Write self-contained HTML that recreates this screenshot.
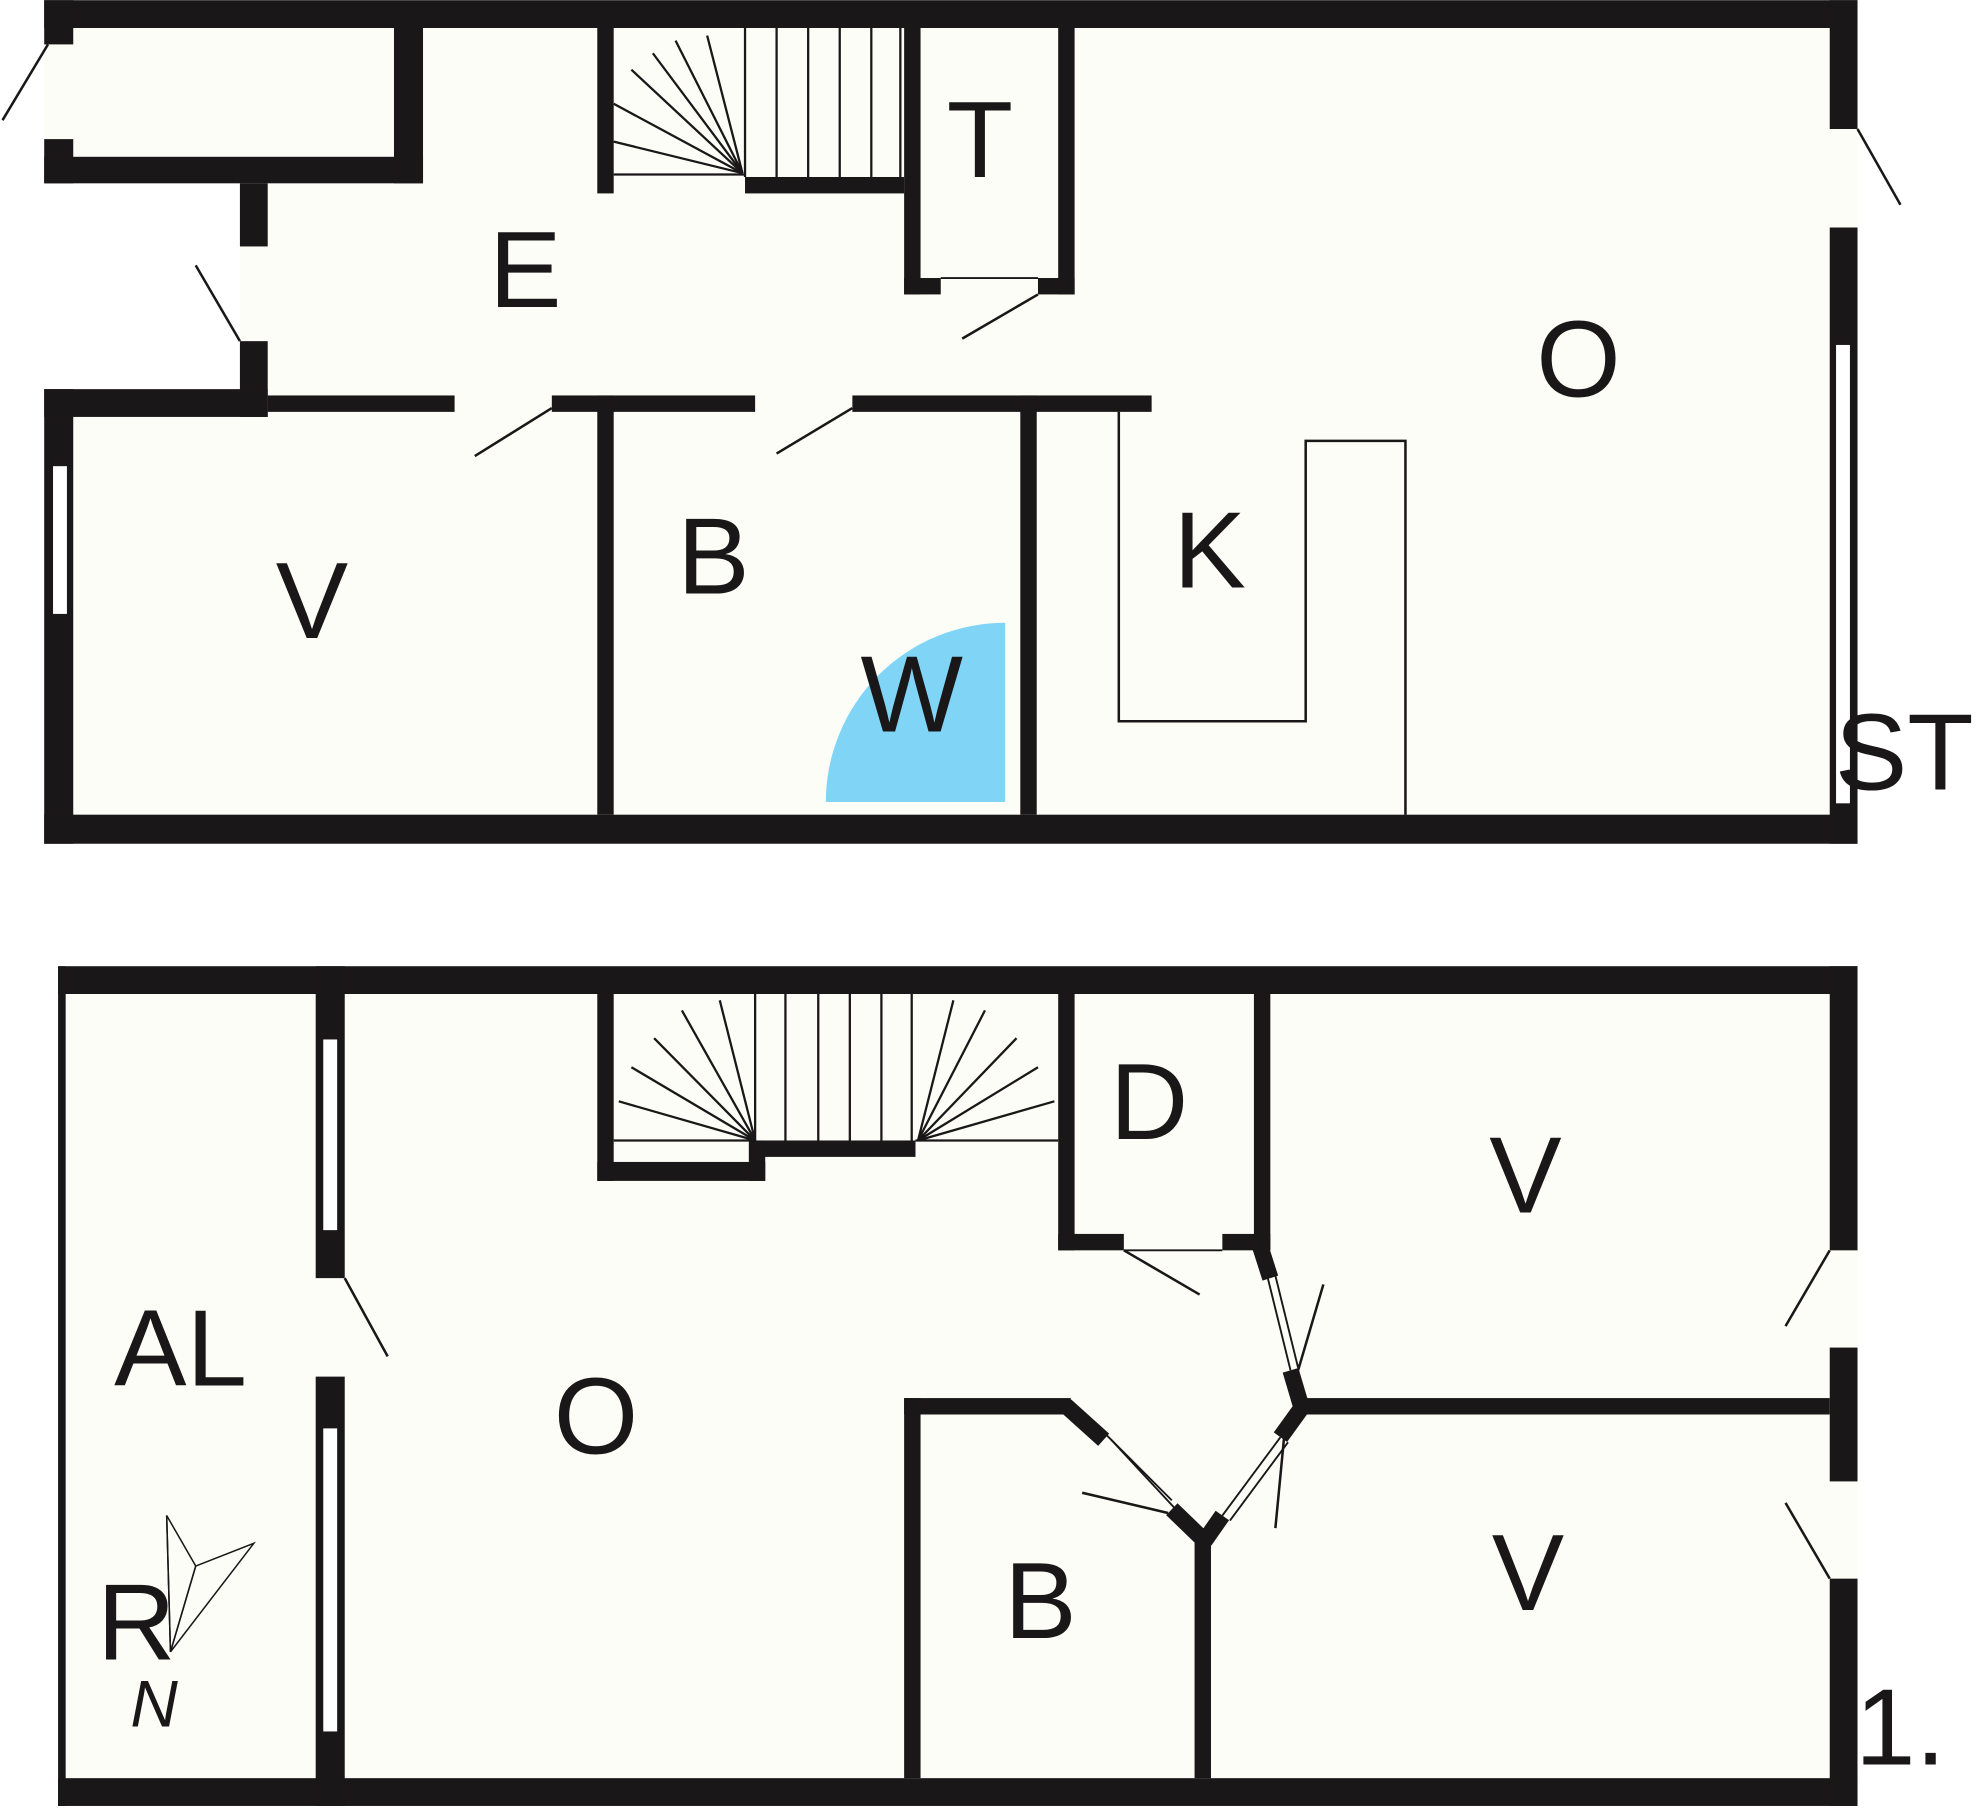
<!DOCTYPE html>
<html><head><meta charset="utf-8"><style>
html,body{margin:0;padding:0;background:#fff}
svg{display:block}
text{font-family:"Liberation Sans",sans-serif;fill:#1a1718}
</style></head><body>
<svg width="1980" height="1815" viewBox="0 0 1568 1437" xmlns="http://www.w3.org/2000/svg">
<rect width="1568" height="1437" fill="#fff"/>
<!-- floor fills -->
<path d="M35,0 H1471 V668 H35 V308 H190 V145 H35 Z" fill="#fcfdf7"/>
<rect x="46" y="765" width="1425" height="665" fill="#fcfdf7"/>
<g fill="#1a1718">
<!-- TOP FLOOR -->
<rect x="35" y="0" width="1436" height="22"/>
<rect x="35" y="0" width="23" height="35"/>
<rect x="35" y="110" width="23" height="35"/>
<rect x="35" y="124" width="300" height="21"/>
<rect x="312" y="22" width="23" height="123"/>
<rect x="190" y="145" width="22" height="50"/>
<rect x="190" y="270" width="22" height="60"/>
<rect x="35" y="308" width="23" height="360"/>
<rect x="35" y="308" width="177" height="22"/>
<rect x="212" y="313" width="148" height="13"/>
<rect x="437" y="313" width="161" height="13"/>
<rect x="675" y="313" width="237" height="13"/>
<rect x="473" y="313" width="13" height="332"/>
<rect x="808" y="313" width="13" height="332"/>
<rect x="35" y="645" width="1436" height="23"/>
<rect x="473" y="22" width="13" height="131"/>
<rect x="590" y="140" width="126" height="13"/>
<rect x="716" y="22" width="13" height="211"/>
<rect x="716" y="220" width="29" height="13"/>
<rect x="822" y="220" width="29" height="13"/>
<rect x="838" y="22" width="13" height="211"/>
<rect x="1449" y="0" width="22" height="102"/>
<rect x="1449" y="180" width="22" height="488"/>
<!-- BOTTOM FLOOR -->
<rect x="46" y="765" width="1425" height="22"/>
<rect x="46" y="765" width="6" height="665"/>
<rect x="46" y="1408" width="1425" height="22"/>
<rect x="250" y="765" width="23" height="247"/>
<rect x="250" y="1090" width="23" height="340"/>
<rect x="473" y="787" width="13" height="148"/>
<rect x="473" y="920" width="133" height="15"/>
<rect x="593" y="903" width="13" height="32"/>
<rect x="598" y="903" width="127" height="13"/>
<rect x="838" y="787" width="13" height="203"/>
<rect x="838" y="977" width="52" height="13"/>
<rect x="968" y="977" width="38" height="13"/>
<rect x="993" y="787" width="13" height="203"/>
<rect x="1449" y="765" width="22" height="225"/>
<rect x="1449" y="1067" width="22" height="106"/>
<rect x="1449" y="1250" width="22" height="180"/>
<rect x="1025" y="1107" width="424" height="13"/>
<rect x="716" y="1107" width="132" height="13"/>
<rect x="716" y="1107" width="13" height="301"/>
<rect x="946" y="1210" width="13" height="198"/>
</g>
<!-- diagonal walls -->
<g stroke="#1a1718" stroke-width="13" fill="none">
<line x1="844" y1="1113" x2="874" y2="1140"/>
<line x1="928" y1="1195" x2="956" y2="1222"/>
<line x1="998" y1="987" x2="1006" y2="1012"/>
<line x1="1022" y1="1085" x2="1030" y2="1112"/>
<line x1="1032" y1="1113" x2="1014" y2="1138"/>
<line x1="968" y1="1200" x2="954" y2="1220"/>
</g>
<g stroke="#1a1718" stroke-width="1.5" fill="none">
<line x1="874" y1="1134" x2="928" y2="1188"/>
<line x1="880" y1="1140" x2="932" y2="1196"/>
<line x1="1004" y1="1012" x2="1022" y2="1085"/>
<line x1="1010" y1="1010" x2="1028" y2="1083"/>
<line x1="1014" y1="1138" x2="968" y2="1200"/>
<line x1="1020" y1="1142" x2="974" y2="1204"/>
<line x1="745" y1="220" x2="822" y2="220"/>
<line x1="890" y1="990" x2="968" y2="990"/>
</g>
<!-- windows -->
<g fill="#fff" stroke="#1a1718" stroke-width="2">
<rect x="41" y="368" width="13" height="119"/>
<rect x="1453" y="272" width="13" height="365"/>
<rect x="255" y="822" width="13" height="153"/>
<rect x="255" y="1130" width="13" height="242"/>
</g>
<!-- door swings & thin lines -->
<g stroke="#1a1718" stroke-width="2" fill="none">
<line x1="2" y1="95" x2="38" y2="35"/>
<line x1="155" y1="210" x2="190" y2="270"/>
<line x1="376" y1="361" x2="437" y2="323"/>
<line x1="615" y1="359" x2="675" y2="323"/>
<line x1="762" y1="268" x2="822" y2="233"/>
<line x1="1471" y1="102" x2="1505" y2="162"/>
<polyline points="886,326 886,571 1034,571 1034,349 1113,349 1113,645"/>
<line x1="273" y1="1012" x2="307" y2="1074"/>
<line x1="890" y1="990" x2="950" y2="1025"/>
<line x1="1449" y1="990" x2="1414" y2="1050"/>
<line x1="1449" y1="1250" x2="1414" y2="1190"/>
<line x1="1028" y1="1085" x2="1048" y2="1017"/>
<line x1="1010" y1="1210" x2="1017" y2="1137"/>
<line x1="857" y1="1182" x2="925" y2="1198"/>
</g>
<!-- stairs -->
<g stroke="#1a1718" stroke-width="1.8" fill="none">
<line x1="486" y1="138" x2="590" y2="138"/>
<line x1="590" y1="22" x2="590" y2="140"/>
<line x1="615" y1="22" x2="615" y2="140"/>
<line x1="640" y1="22" x2="640" y2="140"/>
<line x1="665" y1="22" x2="665" y2="140"/>
<line x1="690" y1="22" x2="690" y2="140"/>
<line x1="713" y1="22" x2="713" y2="140"/>
<line x1="588" y1="137" x2="486" y2="112"/>
<line x1="588" y1="137" x2="486" y2="82"/>
<line x1="588" y1="137" x2="500" y2="55"/>
<line x1="588" y1="137" x2="517" y2="42"/>
<line x1="588" y1="137" x2="535" y2="32"/>
<line x1="588" y1="137" x2="560" y2="28"/>
<line x1="486" y1="903" x2="598" y2="903"/>
<line x1="598" y1="787" x2="598" y2="903"/>
<line x1="622" y1="787" x2="622" y2="903"/>
<line x1="648" y1="787" x2="648" y2="903"/>
<line x1="673" y1="787" x2="673" y2="903"/>
<line x1="698" y1="787" x2="698" y2="903"/>
<line x1="722" y1="787" x2="722" y2="903"/>
<line x1="725" y1="903" x2="838" y2="903"/>
<line x1="598" y1="903" x2="490" y2="872"/>
<line x1="598" y1="903" x2="500" y2="845"/>
<line x1="598" y1="903" x2="518" y2="822"/>
<line x1="598" y1="903" x2="540" y2="800"/>
<line x1="598" y1="903" x2="570" y2="792"/>
<line x1="727" y1="903" x2="835" y2="872"/>
<line x1="727" y1="903" x2="822" y2="845"/>
<line x1="727" y1="903" x2="805" y2="822"/>
<line x1="727" y1="903" x2="780" y2="800"/>
<line x1="727" y1="903" x2="755" y2="792"/>
</g>
<path d="M796,635 L654,635 A142,142 0 0 1 796,493 Z" fill="#80d4f6"/>
<g stroke="#1a1718" stroke-width="1.2" fill="none">
<polygon points="132,1200 155,1240 135,1308"/>
<polygon points="155,1240 201,1222 135,1308"/>
<line x1="132" y1="1200" x2="135" y2="1308"/>
</g>
<g font-size="86" text-anchor="middle">
<text x="776" y="140">T</text>
<text x="416" y="243">E</text>
<text x="1250" y="314">O</text>
<text x="247" y="505">V</text>
<text x="565" y="470">B</text>
<text x="958" y="465">K</text>
<text x="722" y="579">W</text>
<text x="1508" y="625">ST</text>
<text x="910" y="902">D</text>
<text x="1208" y="960">V</text>
<text x="1210" y="1275">V</text>
<text x="143" y="1097">AL</text>
<text x="472" y="1151">O</text>
<text x="824" y="1297">B</text>
<text x="108" y="1314">R</text>
<text x="1505" y="1397">1.</text>
</g>
<text x="122" y="1367" font-size="52" font-style="italic" text-anchor="middle">N</text>
</svg>
</body></html>
